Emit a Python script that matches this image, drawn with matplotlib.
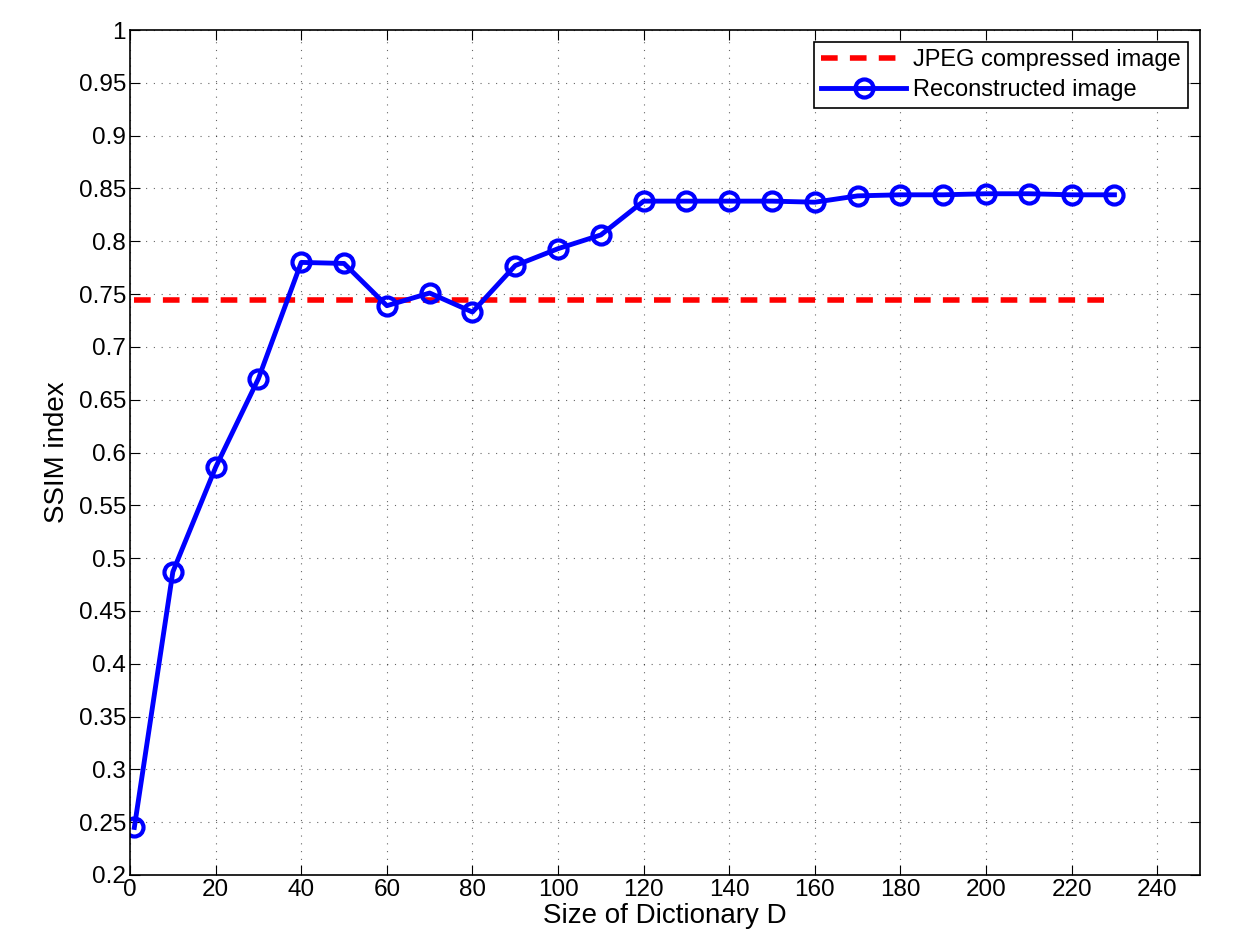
import matplotlib.pyplot as plt

dict_size = [1, 10, 20, 30, 40, 50, 60, 70, 80, 90, 100, 110, 120,
             130, 140, 150, 160, 170, 180, 190, 200, 210, 220, 230]
ssim_recon = [0.245, 0.487, 0.586, 0.670, 0.780, 0.779, 0.739, 0.751,
              0.733, 0.777, 0.793, 0.806, 0.838, 0.838, 0.838, 0.838,
              0.837, 0.843, 0.844, 0.844, 0.845, 0.845, 0.844, 0.844]
ssim_jpeg = 0.744

plt.rcParams['font.family'] = ['Liberation Sans', 'DejaVu Sans']

fig = plt.figure(figsize=(12.35, 9.33), dpi=100)
ax = fig.add_axes([0.1053, 0.0622, 0.8664, 0.9056])

ax.plot([dict_size[0], dict_size[-1]], [ssim_jpeg, ssim_jpeg], 'r--',
        linewidth=4, dashes=(3, 2.2), label='JPEG compressed image')
ax.plot(dict_size, ssim_recon, '-o', color='#0000ff', linewidth=3.5,
        markersize=13, markerfacecolor='none', markeredgewidth=3,
        label='Reconstructed image')

ax.set_xlim(0, 250)
ax.set_ylim(0.2, 1)
ax.set_xticks(range(0, 250, 20))
ax.set_yticks([0.2 + 0.05 * i for i in range(17)])
ax.set_yticklabels(['0.2', '0.25', '0.3', '0.35', '0.4', '0.45', '0.5', '0.55',
                    '0.6', '0.65', '0.7', '0.75', '0.8', '0.85', '0.9', '0.95', '1'])
ax.tick_params(direction='in', top=True, right=True, labelsize=17.5, length=7, pad=3)
ax.grid(True, linestyle=(0, (1, 6)), color='black', linewidth=0.8, alpha=0.6)
for s in ax.spines.values():
    s.set_linewidth(1.2)

ax.set_xlabel('Size of Dictionary D', fontsize=20, labelpad=1)
ax.set_ylabel('SSIM index', fontsize=20, labelpad=6)

leg = ax.legend(loc='upper right', fontsize=17, fancybox=False, framealpha=1,
                edgecolor='black', handlelength=3.6, handletextpad=0.3,
                borderaxespad=0.5, labelspacing=0.35, borderpad=0.3)
leg.get_frame().set_linewidth(1.2)

fig.savefig('out.png', dpi=100)
